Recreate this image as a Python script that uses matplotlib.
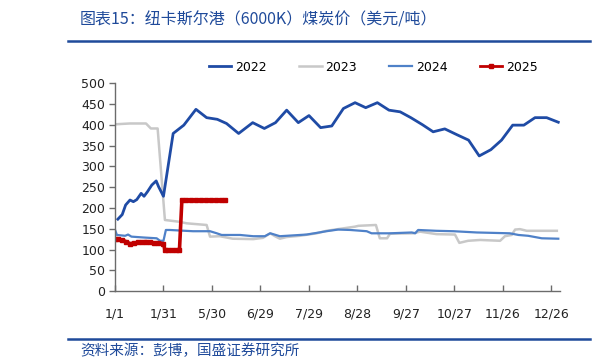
import matplotlib
matplotlib.use("Agg")
import matplotlib.pyplot as plt
from matplotlib.lines import Line2D

plt.rcParams["font.family"] = ["DejaVu Sans", "Noto Sans CJK SC"]

# ── 数据 (x 为横轴刻度序号位置) ─────────────────────────────────────────────
tick_labels = ["1/1", "1/31", "5/30", "6/29", "7/29", "8/28", "9/27", "10/27", "11/26", "12/26"]

x_2022 = [0.06, 0.15, 0.22, 0.31, 0.38, 0.45, 0.54, 0.60, 0.67, 0.76, 0.85, 0.90, 1.00,
          1.20, 1.42, 1.67, 1.89, 2.11, 2.30, 2.55, 2.84, 3.08, 3.31, 3.54, 3.78, 4.00,
          4.24, 4.47, 4.71, 4.95, 5.17, 5.41, 5.65, 5.88, 6.10, 6.34, 6.56, 6.80, 7.05,
          7.29, 7.51, 7.75, 7.97, 8.20, 8.43, 8.66, 8.90, 9.14]
y_2022 = [173, 184, 207, 219, 215, 220, 235, 228, 239, 255, 265, 251, 228,
          379, 399, 437, 417, 413, 403, 379, 405, 391, 405, 435, 405, 422,
          393, 397, 439, 453, 441, 453, 435, 431, 417, 400, 383, 390, 376,
          363, 325, 340, 363, 399, 399, 417, 417, 406]

x_2023 = [0.00, 0.31, 0.64, 0.74, 0.88, 1.03, 1.31, 1.48, 1.89, 1.96, 2.16, 2.43, 2.85,
          3.05, 3.20, 3.30, 3.40, 3.54, 3.81, 4.16, 4.36, 4.95, 5.02, 5.38, 5.46, 5.61,
          5.67, 6.15, 6.29, 6.63, 7.01, 7.10, 7.28, 7.53, 7.94, 8.04, 8.18, 8.25, 8.35,
          8.49, 9.11]
y_2023 = [401, 403, 403, 391, 391, 171, 167, 163, 159, 131, 132, 126, 125,
          128, 139, 132, 126, 130, 133, 139, 145, 155, 157, 159, 127, 127,
          138, 139, 143, 137, 136, 116, 121, 123, 121, 132, 135, 148, 149,
          145, 145]

x_2024 = [0.00, 0.04, 0.21, 0.27, 0.34, 0.58, 0.86, 0.93, 1.00, 1.05, 1.13, 1.61, 1.96,
          2.10, 2.20, 2.58, 2.85, 3.09, 3.20, 3.26, 3.40, 3.95, 4.16, 4.36, 4.60, 4.85,
          5.19, 5.29, 5.67, 6.12, 6.19, 6.25, 6.63, 6.98, 7.46, 8.14, 8.32, 8.52, 8.80,
          9.14]
y_2024 = [148, 135, 133, 136, 131, 129, 127, 121, 121, 147, 147, 144, 144,
          139, 135, 135, 132, 132, 139, 137, 132, 136, 140, 144, 148, 147,
          144, 139, 139, 141, 139, 147, 145, 144, 141, 139, 135, 133, 127,
          126]

x_2025 = [0.00, 0.06, 0.14, 0.23, 0.31, 0.39, 0.47, 0.56, 0.64, 0.72, 0.80, 0.89, 1.00,
          1.03, 1.09, 1.18, 1.26, 1.33, 1.38, 1.46, 1.57, 1.67, 1.77, 1.87, 1.98, 2.08,
          2.19, 2.27]
y_2025 = [126, 125, 123, 119, 114, 115, 117, 118, 119, 118, 116, 116, 114,
          99, 99, 99, 99, 99, 219, 219, 219, 219, 219, 219, 219, 219,
          219, 219]

C22 = "#1F4BA5"
C23 = "#C8C8C8"
C24 = "#4F81C8"
C25 = "#C00000"
RULE = "#1F4A9A"

fig = plt.figure(figsize=(6.05, 3.63), dpi=100)
ax = fig.add_axes([0.190, 0.198, 0.736, 0.573])

ax.plot(x_2023, y_2023, color=C23, lw=1.8, label="2023")
ax.plot(x_2024, y_2024, color=C24, lw=1.6, label="2024")
ax.plot(x_2022, y_2022, color=C22, lw=2.0, label="2022")
ax.plot(x_2025, y_2025, color=C25, lw=2.6, marker="s", markersize=3.2, label="2025")

ax.set_xlim(0, 9.18)
ax.set_ylim(0, 500)
ax.set_yticks(range(0, 501, 50))
ax.set_xticks(range(len(tick_labels)))
ax.set_xticklabels(tick_labels)

for side in ("top", "right"):
    ax.spines[side].set_visible(False)
for side in ("left", "bottom"):
    ax.spines[side].set_color("#6b6b6b")
    ax.spines[side].set_linewidth(1.0)

ax.tick_params(axis="y", direction="out", length=4, width=1, color="#6b6b6b",
               labelsize=9, labelcolor="#222222", pad=3)
ax.tick_params(axis="x", direction="in", length=4, width=1, color="#6b6b6b",
               labelsize=9, labelcolor="#222222", pad=12)

handles = [
    Line2D([], [], color=C22, lw=2.0),
    Line2D([], [], color=C23, lw=1.8),
    Line2D([], [], color=C24, lw=1.6),
    Line2D([], [], color=C25, lw=2.0, marker="s", markersize=3.2),
]
fig.legend(handles, ["2022", "2023", "2024", "2025"], loc="center",
           bbox_to_anchor=(0.617, 0.815), ncol=4, frameon=False, fontsize=9,
           handlelength=1.8, handletextpad=0.3, columnspacing=2.6)

# 标题与来源
fig.text(0.132, 0.945, "图表15：纽卡斯尔港（6000K）煤炭价（美元/吨）", color=RULE,
         fontsize=11.5, family=["Noto Sans CJK SC", "DejaVu Sans"], va="center", ha="left")
fig.text(0.132, 0.033, "资料来源：彭博，国盛证券研究所", color=RULE,
         fontsize=10.5, family=["Noto Sans CJK SC", "DejaVu Sans"], va="center", ha="left")

fig.add_artist(Line2D([0.112, 0.975], [0.888, 0.888], color=RULE, lw=1.8,
                      transform=fig.transFigure))
fig.add_artist(Line2D([0.112, 0.975], [0.066, 0.066], color=RULE, lw=1.8,
                      transform=fig.transFigure))

fig.savefig("out.png", dpi=100)
